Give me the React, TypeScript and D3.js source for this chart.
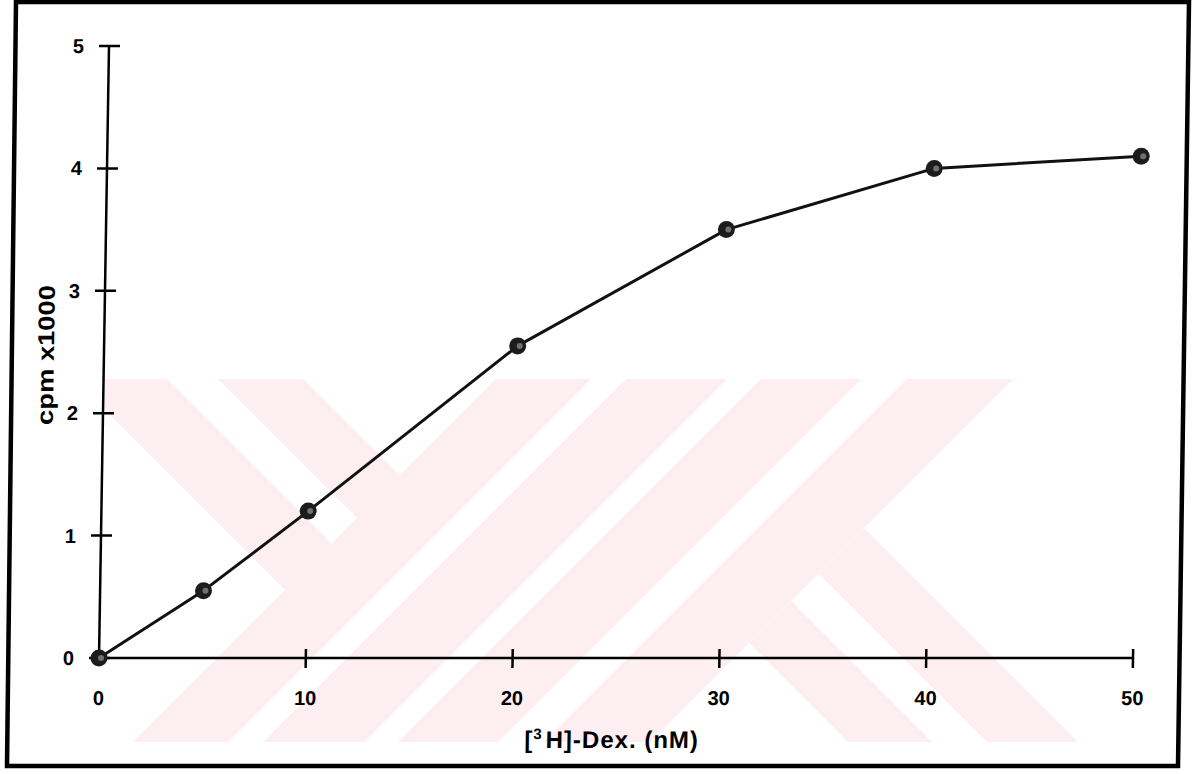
import React, { useRef, useEffect } from 'react';
import * as d3 from 'd3';

// binding curve, [3H]-Dex (nM) vs cpm x1000
const concentrations = [0, 5, 10, 20, 30, 40, 50];
const cpmValues = [0, 0.55, 1.2, 2.55, 3.5, 4.0, 4.1];
const xTicks = [0, 10, 20, 30, 40, 50];
const yTicks = [0, 1, 2, 3, 4, 5];

// faint background watermark, as diagonal bands: c = x - y, d = x + y
const watermarkBands = [
  [-305, -212, 0, 875],
  [-161, -76, 0, 875],
  [-2000, 2000, 875, 970],
  [-2000, 2000, 1005, 1106],
  [-2000, 2000, 1140, 1240],
  [-2000, 2000, 1286, 1392],
  [106, 190, 1392, 3000],
  [245, 336, 1392, 3000],
];

const W = 1200;
const H = 774;

const App = () => {
  const svgRef = useRef(null);

  useEffect(() => {
    const svg = d3.select(svgRef.current);
    svg.selectAll('*').remove();

    const xScale = d3.scaleLinear().domain([0, 50]).range([99, 1133]);
    const yScale = d3.scaleLinear().domain([0, 5]).range([658, 46]);

    // watermark
    const defs = svg.append('defs');
    defs
      .append('clipPath')
      .attr('id', 'wm-clip')
      .append('rect')
      .attr('x', 105)
      .attr('y', 379)
      .attr('width', 985)
      .attr('height', 363);

    const toXY = (c, d) => [(c + d) / 2, (d - c) / 2];
    svg
      .append('g')
      .attr('clip-path', 'url(#wm-clip)')
      .selectAll('path')
      .data(watermarkBands)
      .join('path')
      .attr('fill', '#fdeef1')
      .attr('d', ([c1, c2, d1, d2]) =>
        'M' + [toXY(c1, d1), toXY(c2, d1), toXY(c2, d2), toXY(c1, d2)].map(p => p.join(',')).join('L') + 'Z'
      );

    // frame (slightly skewed scan)
    svg
      .append('path')
      .attr('d', 'M16,2L1189,2L1178,766L7,766Z')
      .attr('fill', 'none')
      .attr('stroke', '#000')
      .attr('stroke-width', 4.5);

    // scanned page is sheared a little: top leans right
    const k = -10 / 612;
    const g = svg
      .append('g')
      .attr('transform', `translate(${-k * 658},0) skewX(${(Math.atan(k) * 180) / Math.PI})`);

    const x0 = xScale(0);
    const y0 = yScale(0);
    const font = 'Arial, "Liberation Sans", sans-serif';

    // y axis
    g.append('line')
      .attr('x1', x0).attr('x2', x0)
      .attr('y1', y0).attr('y2', yScale(5))
      .attr('stroke', '#000').attr('stroke-width', 2.5);
    g.selectAll('.ytick')
      .data(yTicks)
      .join('line')
      .attr('class', 'ytick')
      .attr('x1', x0 - 10).attr('x2', x0 + 11)
      .attr('y1', d => yScale(d)).attr('y2', d => yScale(d))
      .attr('stroke', '#000').attr('stroke-width', 2.5);
    g.selectAll('.ylab')
      .data(yTicks)
      .join('text')
      .attr('class', 'ylab')
      .attr('x', x0 - 25)
      .attr('y', d => yScale(d) + 7)
      .attr('text-anchor', 'end')
      .attr('font-family', font)
      .attr('font-weight', 'bold')
      .attr('font-size', 20)
      .text(d => d);

    // x axis
    g.append('line')
      .attr('x1', x0).attr('x2', xScale(50))
      .attr('y1', y0).attr('y2', y0)
      .attr('stroke', '#000').attr('stroke-width', 2.5);
    g.selectAll('.xtick')
      .data(xTicks.filter(d => d > 0))
      .join('line')
      .attr('class', 'xtick')
      .attr('x1', d => xScale(d)).attr('x2', d => xScale(d))
      .attr('y1', y0 - 9).attr('y2', y0 + 10)
      .attr('stroke', '#000').attr('stroke-width', 2.5);
    g.selectAll('.xlab')
      .data(xTicks)
      .join('text')
      .attr('class', 'xlab')
      .attr('x', d => xScale(d))
      .attr('y', 705)
      .attr('text-anchor', 'middle')
      .attr('font-family', font)
      .attr('font-weight', 'bold')
      .attr('font-size', 20)
      .text(d => d);

    // axis titles
    const xt = g
      .append('text')
      .attr('x', 613)
      .attr('y', 748)
      .attr('text-anchor', 'middle')
      .attr('font-family', font)
      .attr('font-weight', 'bold')
      .attr('font-size', 24)
      .attr('letter-spacing', 1);
    xt.append('tspan').text('[');
    xt.append('tspan').attr('font-size', 15).attr('dy', -9).text('3');
    xt.append('tspan').attr('dy', 9).attr('dx', 3).text('H]-Dex. (nM)');

    g.append('text')
      .attr('transform', 'translate(49,355) rotate(-90)')
      .attr('text-anchor', 'middle')
      .attr('font-family', font)
      .attr('font-weight', 'bold')
      .attr('font-size', 23)
      .attr('textLength', 140)
      .attr('lengthAdjust', 'spacingAndGlyphs')
      .text('cpm x1000');

    // curve
    const points = concentrations.map((c, i) => [c, cpmValues[i]]);
    const line = d3
      .line()
      .x(d => xScale(d[0]))
      .y(d => yScale(d[1]));
    g.append('path')
      .datum(points)
      .attr('d', line)
      .attr('fill', 'none')
      .attr('stroke', '#111')
      .attr('stroke-width', 3)
      .attr('stroke-linejoin', 'round');

    const dots = g
      .selectAll('.pt')
      .data(points)
      .join('g')
      .attr('class', 'pt')
      .attr('transform', d => `translate(${xScale(d[0])},${yScale(d[1])})`);
    dots.append('circle').attr('r', 8.5).attr('fill', '#1c1c1c');
    dots.append('circle').attr('cx', 2).attr('cy', 0).attr('r', 3).attr('fill', '#707070');
  }, []);

  return (
    <svg
      ref={svgRef}
      width={W}
      height={H}
      style={{ position: 'absolute', left: 0, top: 0, background: '#fff' }}
    />
  );
};

export default App;
